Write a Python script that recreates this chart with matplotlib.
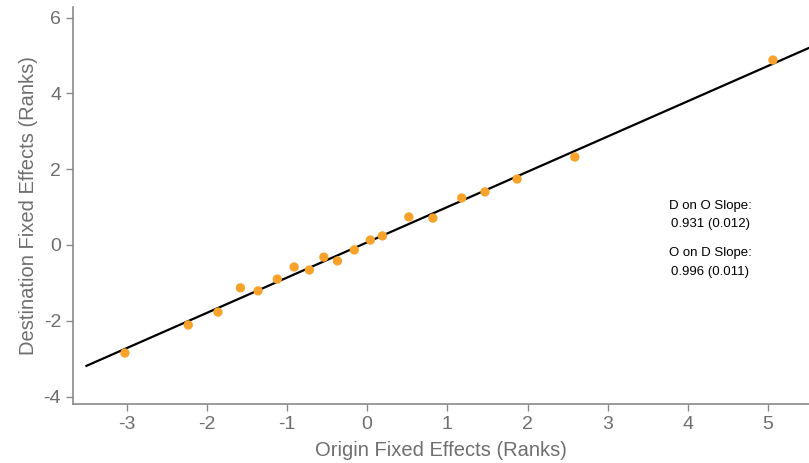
import numpy as np
import matplotlib.pyplot as plt

plt.rcParams['axes.unicode_minus'] = False
plt.rcParams['font.family'] = ['Liberation Sans', 'DejaVu Sans']

# binned ranks: origin vs destination fixed effects
origin_fe = [-3.02, -2.23, -1.86, -1.58, -1.36, -1.12, -0.91, -0.72, -0.54, -0.37,
             -0.16, 0.04, 0.19, 0.52, 0.82, 1.18, 1.47, 1.87, 2.59, 5.06]
dest_fe = [-2.85, -2.11, -1.77, -1.13, -1.21, -0.90, -0.58, -0.66, -0.32, -0.42,
           -0.13, 0.13, 0.24, 0.74, 0.71, 1.24, 1.40, 1.74, 2.32, 4.88]

fit_slope = 0.931
fit_intercept = 0.07
fit_x = [-3.5, 5.6]

xticks = [-3, -2, -1, 0, 1, 2, 3, 4, 5]
yticks = [-4, -2, 0, 2, 4, 6]

fig = plt.figure(figsize=(8.09, 4.63), dpi=100)
ax = fig.add_axes([0.090, 0.127, 0.91, 0.858])

fx = np.array(fit_x)
ax.plot(fx, fit_intercept + fit_slope * fx, color='black', lw=1.6, zorder=2)
ax.scatter(origin_fe, dest_fe, s=45, color='#f7a22b', edgecolor='none', zorder=3)

ax.set_xlim(-3.67, 5.51)
ax.set_ylim(-4.2, 6.28)
ax.set_xticks(xticks)
ax.set_yticks(yticks)

grey = '#6e6e6e'
for s in ['top', 'right']:
    ax.spines[s].set_visible(False)
for s in ['left', 'bottom']:
    ax.spines[s].set_color('#8a8a8a')
    ax.spines[s].set_linewidth(1.2)
ax.tick_params(colors='#8a8a8a', length=5, width=1, labelcolor=grey, labelsize=14)

ax.set_xlabel('Origin Fixed Effects (Ranks)', fontsize=14.5, color=grey, labelpad=6)
ax.set_ylabel('Destination Fixed Effects (Ranks)', fontsize=14.5, color=grey, labelpad=4)

ax.text(4.28, 0.79, 'D on O Slope:\n0.931 (0.012)', ha='center', va='center',
        fontsize=9.5, linespacing=1.75)
ax.text(4.28, -0.47, 'O on D Slope:\n0.996 (0.011)', ha='center', va='center',
        fontsize=9.5, linespacing=1.75)

fig.savefig('out.png', dpi=100)
